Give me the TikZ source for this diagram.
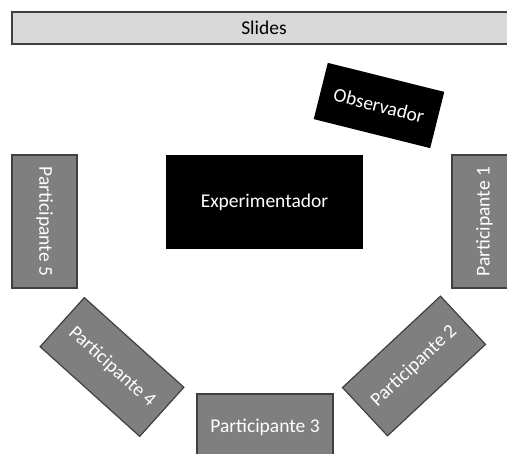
\documentclass[tikz,border=0pt]{standalone}
\usepackage{fontspec}
\setmainfont{Carlito}
\definecolor{slidegray}{HTML}{D9D9D9}
\definecolor{seatgray}{HTML}{7F7F7F}
\definecolor{edgegray}{HTML}{404040}
\begin{document}
\begin{tikzpicture}[x=1pt,y=1pt,font=\fontsize{19.5}{23}\selectfont,
  seat/.style={draw=edgegray,line width=1.2pt,fill=seatgray,text=white,
    minimum width=134pt,minimum height=66pt,inner sep=0pt},
  dark/.style={fill=black,text=white,inner sep=0pt}]

\clip (0,0) rectangle (507,454);

% screen
\node[draw=edgegray,line width=1.2pt,fill=slidegray,minimum width=504pt,
  minimum height=32pt,inner sep=0pt] (slides) at (264,426) {Slides};

\node[dark,minimum width=120pt,minimum height=58pt,rotate=-14] (obs) at (379,348.5) {Observador};
\node[dark,minimum width=197pt,minimum height=94pt] (exp) at (264.5,252) {Experimentador};

% participants
\node[seat,rotate=90,minimum width=133pt,minimum height=65pt] (p1) at (484.5,232.5) {Participante 1};
\node[seat,rotate=43] (p2) at (414,88) {Participante 2};
\node[seat,minimum width=136pt] (p3) at (265,27) {Participante 3};
\node[seat,rotate=-42] (p4) at (112,87) {Participante 4};
\node[seat,rotate=-90,minimum width=133pt,minimum height=65pt] (p5) at (44.5,232.5) {Participante 5};
\end{tikzpicture}
\end{document}
